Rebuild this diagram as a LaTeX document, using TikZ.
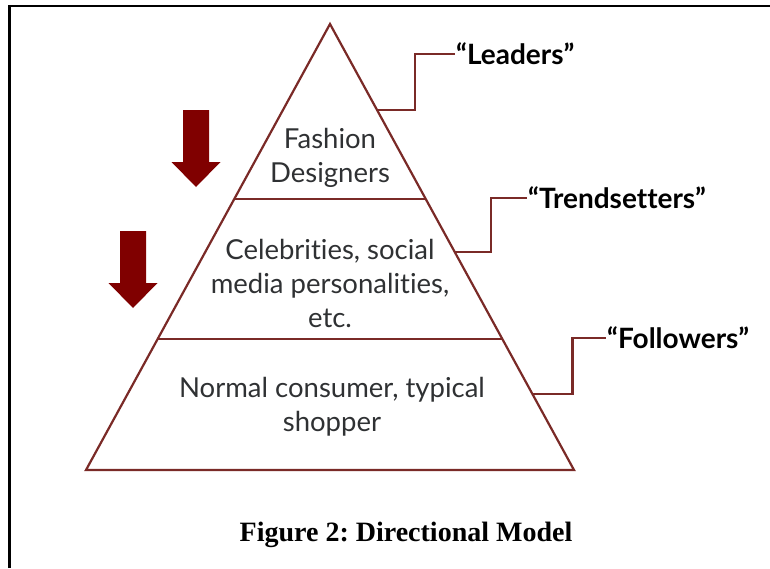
\documentclass[tikz,border=0pt]{standalone}
\usepackage{fontspec}
\setmainfont{Lato}[Ligatures=NoCommon]
\newfontfamily\capfont{Liberation Serif}
\usetikzlibrary{calc}

\definecolor{pyrline}{HTML}{7A2A27}
\definecolor{arrowred}{HTML}{800000}
\definecolor{tiertext}{HTML}{2F3133}

\tikzset{
  tier/.style={text=tiertext, align=center, font=\fontsize{27.5}{34}\selectfont},
  role/.style={font=\fontsize{28}{32}\selectfont\bfseries, anchor=west, inner sep=1pt},
  link/.style={draw=pyrline, line width=2.2pt},
}

\begin{document}
\frenchspacing
\begin{tikzpicture}[x=1pt, y=-1pt]
\useasboundingbox (0,0) rectangle (770,568);
\draw[line width=2.7pt] (9.5,568) -- (9.5,6) -- (770,6);

\coordinate (apex) at (330,24);
\coordinate (baseL) at (86,470);
\coordinate (baseR) at (574,470);
\draw[link, line join=miter] (apex) -- (baseR) -- (baseL) -- cycle;
\draw[link] ($(apex)!0.392!(baseL)$) -- ($(apex)!0.392!(baseR)$);
\draw[link] ($(apex)!0.706!(baseL)$) -- ($(apex)!0.706!(baseR)$);

\node[tier] (designers) at (330,158) {Fashion\\Designers};
\node[tier] (celebs) at (330,283) {Celebrities, social\\media personalities,\\etc.};
\node[tier] (shoppers) at (332,407) {Normal consumer, typical\\shopper};

\foreach \x/\ytop/\ybase/\ytip in {196/110/162/187, 133/231/283/308}
  \fill[arrowred] ({\x-13},\ytop) -- ({\x+13},\ytop) -- ({\x+13},\ybase) -- ({\x+24.5},\ybase)
    -- (\x,\ytip) -- ({\x-24.5},\ybase) -- ({\x-13},\ybase) -- cycle;

\node[role] (leaders) at (455,54) {“Leaders”};
\node[role] (trendsetters) at (527,198) {“Trendsetters”};
\node[role] (followers) at (606,338) {“Followers”};

\coordinate (leadE) at ($(apex)!0.193!(baseR)$);
\coordinate (trendE) at ($(apex)!0.511!(baseR)$);
\coordinate (followE) at ($(apex)!0.830!(baseR)$);

\draw[link] (leadE) -- ++(38,0) |- (leaders.west);
\draw[link] (trendE) -- ++(36,0) |- (trendsetters.west);
\draw[link] (followE) -- ++(40,0) |- (followers.west);

\node[font=\capfont\bfseries\fontsize{28}{32}\selectfont] (caption) at (406,535) {Figure 2: Directional Model};
\end{tikzpicture}
\end{document}
